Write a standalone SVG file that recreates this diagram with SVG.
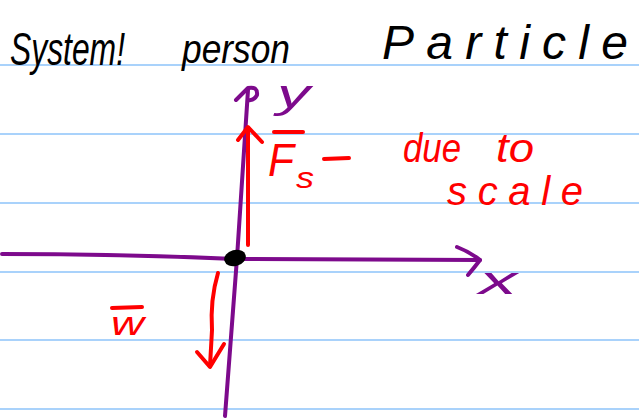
<svg xmlns="http://www.w3.org/2000/svg" width="639" height="419" viewBox="0 0 639 419">
<style>
.rule{stroke:#a9d2fb;stroke-width:2}
.ink{fill:#000;font-family:"Liberation Sans",sans-serif;font-style:italic}
.red{fill:#ff0000;font-family:"Liberation Sans",sans-serif;font-style:italic}
.pur{fill:#7d0a8c;font-family:"Liberation Sans",sans-serif;font-style:italic}
.ps{fill:none;stroke:#7d0a8c;stroke-width:4;stroke-linecap:round;stroke-linejoin:round}
.rs{fill:none;stroke:#ff0000;stroke-width:4;stroke-linecap:round;stroke-linejoin:round}
</style>
<rect width="639" height="419" fill="#fff"/>
<g id="rules">
<line class="rule" x1="0" y1="65" x2="639" y2="65"/>
<line class="rule" x1="0" y1="134" x2="639" y2="134"/>
<line class="rule" x1="0" y1="203" x2="639" y2="203"/>
<line class="rule" x1="0" y1="272" x2="639" y2="272"/>
<line class="rule" x1="0" y1="340" x2="639" y2="340"/>
<line class="rule" x1="0" y1="409" x2="639" y2="409"/>
</g>
<g id="header">
<text class="ink" x="10" y="65" font-size="46" textLength="115" lengthAdjust="spacingAndGlyphs">System!</text>
<text class="ink" x="182" y="63" font-size="40" textLength="108" lengthAdjust="spacingAndGlyphs">person</text>
<text class="ink" x="382" y="59" font-size="48" textLength="246" lengthAdjust="spacing">Particle</text>
</g>
<g id="axes">
<path class="ps" d="M2,254 Q120,254 235,259 L480,260"/>
<path class="ps" d="M457,247 Q470,252 480,260 Q474,268 468,275"/>
<path class="ps" d="M225,416 L237,258 L248,90"/>
<path class="ps" d="M236,100 L248,88 Q258,86 257,95 Q254,101 248,100"/>
<text class="pur" x="479" y="294" font-size="38" textLength="38" lengthAdjust="spacingAndGlyphs">x</text>
<text class="pur" x="277" y="108" font-size="40" textLength="33" lengthAdjust="spacingAndGlyphs">y</text>
</g>
<g id="particle">
<ellipse cx="235" cy="258" rx="11" ry="8" fill="#000" transform="rotate(-15 235 258)"/>
</g>
<g id="force-Fs">
<path class="rs" d="M248,245 L248,128"/>
<path class="rs" d="M238,140 L248,127 L262,142"/>
<line class="rs" x1="274" y1="132" x2="303" y2="132"/>
<text class="red" x="268" y="176" font-size="46" textLength="26" lengthAdjust="spacingAndGlyphs">F</text>
<text class="red" x="296" y="188" font-size="30" textLength="18" lengthAdjust="spacingAndGlyphs">s</text>
<line class="rs" x1="324" y1="159" x2="349" y2="158"/>
<text class="red" x="403" y="162" font-size="40" textLength="58" lengthAdjust="spacingAndGlyphs">due</text>
<text class="red" x="496" y="162" font-size="40" textLength="38" lengthAdjust="spacingAndGlyphs">to</text>
<text class="red" x="447" y="205" font-size="40" textLength="136" lengthAdjust="spacing">scale</text>
</g>
<g id="force-w">
<path class="rs" d="M218,273 Q210,300 212,330 L210,366"/>
<path class="rs" d="M197,352 L210,367 L224,344"/>
<line class="rs" x1="112" y1="308" x2="142" y2="307"/>
<text class="red" x="111" y="335" font-size="34" textLength="33" lengthAdjust="spacingAndGlyphs">w</text>
</g>
</svg>
